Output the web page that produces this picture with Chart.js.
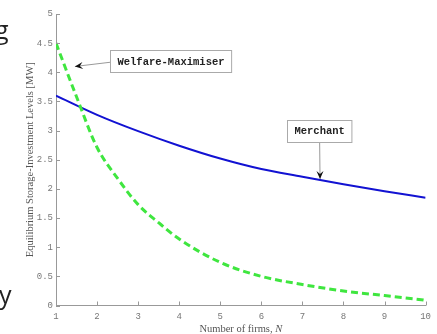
<!DOCTYPE html>
<html>
<head>
<meta charset="utf-8">
<script src="https://cdn.jsdelivr.net/npm/chart.js@4/dist/chart.umd.min.js"></script>
<style>
  html, body { margin: 0; padding: 0; background: #fff; }
  #wrap { position: relative; width: 437px; height: 334px; overflow: hidden; }
  .frag { position: absolute; font-family: "Open Sans", sans-serif; font-size: 25px; color: #222; line-height: 1; }
</style>
</head>
<body>
<div id="wrap">
  <canvas id="chart"></canvas>
  <div class="frag" style="left:-5px; top:17px;">g</div>
  <div class="frag" style="left:-1px; top:282px;">y</div>
</div>
<script>
// Merchant storage, read at integer numbers of firms
const firms = [1, 2, 3, 4, 5, 6, 7, 8, 9, 10];
const merchant = [3.60, 3.27, 2.99, 2.74, 2.52, 2.34, 2.21, 2.08, 1.96, 1.85];

// Welfare-maximiser, read a bit more densely where it bends
const welfareFirms = [1, 1.5, 2, 2.5, 3, 3.5, 4, 5, 6, 7, 8, 9, 10];
const welfare = [4.50, 3.58, 2.71, 2.18, 1.73, 1.42, 1.14, 0.74, 0.50, 0.36, 0.25, 0.17, 0.09];

// text boxes with arrows (in data units)
const notes = [
  { text: 'Welfare-Maximiser', boxX: 3.80, boxY: 4.19, tipX: 1.46, tipY: 4.10 },
  { text: 'Merchant', boxX: 7.42, boxY: 3.00, tipX: 7.43, tipY: 2.17 }
];

const toPoints = (xs, ys) => xs.map((v, i) => ({ x: v, y: ys[i] }));

// small tick marks drawn inside the axes
const innerTicks = {
  id: 'innerTicks',
  afterDraw(chart) {
    const { ctx, scales: { x, y }, chartArea: a } = chart;
    ctx.save();
    ctx.strokeStyle = '#999';
    ctx.lineWidth = 1;
    ctx.beginPath();
    x.ticks.forEach((t, i) => {
      const px = Math.round(x.getPixelForTick(i)) + 0.5;
      ctx.moveTo(px, a.bottom);
      ctx.lineTo(px, a.bottom - 4);
    });
    y.ticks.forEach((t, i) => {
      const py = Math.round(y.getPixelForTick(i)) + 0.5;
      ctx.moveTo(a.left, py);
      ctx.lineTo(a.left + 4, py);
    });
    ctx.stroke();
    ctx.restore();
  }
};

// x title with italic N
const xTitle = {
  id: 'xTitle',
  afterDraw(chart) {
    const { ctx, chartArea: a } = chart;
    const part1 = 'Number of firms, ';
    const part2 = 'N';
    ctx.save();
    ctx.fillStyle = '#555';
    ctx.textBaseline = 'middle';
    ctx.font = '10.5px "Liberation Serif"';
    const w1 = ctx.measureText(part1).width;
    ctx.font = 'italic 10.5px "Liberation Serif"';
    const w2 = ctx.measureText(part2).width;
    const start = (a.left + a.right) / 2 - (w1 + w2) / 2;
    ctx.font = '10.5px "Liberation Serif"';
    ctx.fillText(part1, start, 329);
    ctx.font = 'italic 10.5px "Liberation Serif"';
    ctx.fillText(part2, start + w1, 329);
    ctx.restore();
  }
};

const callouts = {
  id: 'callouts',
  afterDatasetsDraw(chart) {
    const { ctx, scales: { x, y } } = chart;
    ctx.save();
    ctx.font = 'bold 10.5px "Liberation Mono"';
    notes.forEach(n => {
      const cx = x.getPixelForValue(n.boxX);
      const cy = y.getPixelForValue(n.boxY);
      const tw = ctx.measureText(n.text).width;
      const w = tw + 14, h = 22;
      const bx = Math.round(cx - w / 2) + 0.5, by = Math.round(cy - h / 2) + 0.5;
      const tx = x.getPixelForValue(n.tipX), ty = y.getPixelForValue(n.tipY);
      let sx, sy;
      if (tx < bx) { sx = bx; sy = cy + 1; } else { sx = cx; sy = by + h; }

      // arrow line
      ctx.strokeStyle = '#999';
      ctx.lineWidth = 1;
      ctx.beginPath();
      ctx.moveTo(sx, sy);
      ctx.lineTo(tx, ty);
      ctx.stroke();

      // arrow head
      const ang = Math.atan2(ty - sy, tx - sx);
      const L = 8, W = 3.5, notch = 5;
      ctx.fillStyle = '#111';
      ctx.beginPath();
      ctx.moveTo(tx, ty);
      ctx.lineTo(tx - L * Math.cos(ang) + W * Math.sin(ang), ty - L * Math.sin(ang) - W * Math.cos(ang));
      ctx.lineTo(tx - notch * Math.cos(ang), ty - notch * Math.sin(ang));
      ctx.lineTo(tx - L * Math.cos(ang) - W * Math.sin(ang), ty - L * Math.sin(ang) + W * Math.cos(ang));
      ctx.closePath();
      ctx.fill();

      // box
      ctx.fillStyle = '#fff';
      ctx.fillRect(bx, by, w, h);
      ctx.strokeStyle = '#aaa';
      ctx.strokeRect(bx, by, w, h);
      ctx.fillStyle = '#222';
      ctx.textAlign = 'center';
      ctx.textBaseline = 'middle';
      ctx.fillText(n.text, cx, cy + 1);
    });
    ctx.restore();
  }
};

new Chart(document.getElementById('chart'), {
  type: 'line',
  data: {
    datasets: [
      {
        label: 'Welfare-Maximiser',
        data: toPoints(welfareFirms, welfare),
        borderColor: '#3fe63f',
        borderWidth: 3,
        borderDash: [7, 4],
        pointRadius: 0,
        cubicInterpolationMode: 'monotone',
        fill: false
      },
      {
        label: 'Merchant',
        data: toPoints(firms, merchant),
        borderColor: '#1212d2',
        borderWidth: 2,
        pointRadius: 0,
        cubicInterpolationMode: 'monotone',
        fill: false
      }
    ]
  },
  options: {
    responsive: true,
    maintainAspectRatio: false,
    animation: false,
    layout: { padding: { top: 14, right: 11, left: 0, bottom: 0 } },
    plugins: {
      legend: { display: false },
      tooltip: { enabled: false }
    },
    scales: {
      x: {
        type: 'linear',
        min: 1,
        max: 10,
        grid: { display: false, drawTicks: false },
        border: { display: true, color: '#999' },
        ticks: {
          stepSize: 1,
          padding: 6,
          color: '#777',
          font: { family: 'Liberation Mono', size: 9 }
        },
        afterFit: s => { s.height = 28.5; }
      },
      y: {
        min: 0,
        max: 5,
        grid: { display: false, drawTicks: false },
        border: { display: true, color: '#999' },
        ticks: {
          stepSize: 0.5,
          padding: 3,
          color: '#777',
          font: { family: 'Liberation Mono', size: 9 },
          callback: v => String(Math.round(v * 10) / 10)
        },
        title: {
          display: true,
          text: 'Equilibrium Storage-Investment Levels [MW]',
          color: '#555',
          font: { family: 'Liberation Serif', size: 10.5 },
          padding: { top: 24, bottom: 0 }
        },
        afterFit: s => { s.width = 56; }
      }
    }
  },
  plugins: [innerTicks, xTitle, callouts]
});
</script>
</body>
</html>
